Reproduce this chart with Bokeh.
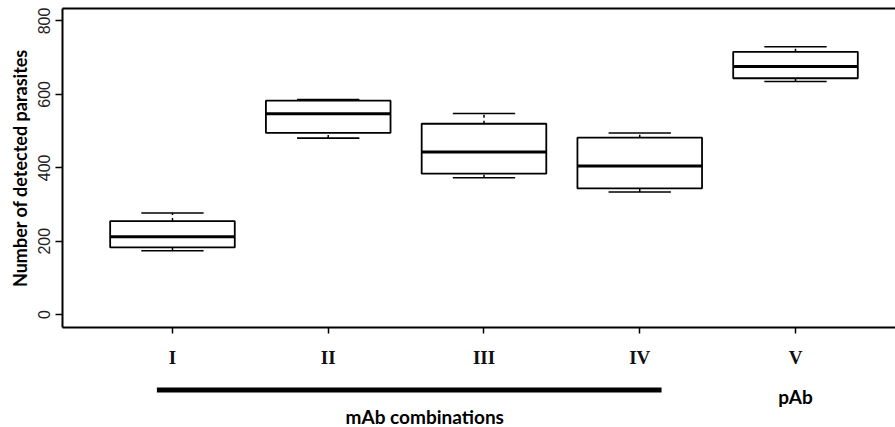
from bokeh.plotting import figure
from bokeh.models import ColumnDataSource, FixedTicker, LinearAxis, Range1d
from bokeh.layouts import column
from bokeh.core.properties import value
from bokeh.embed import file_html
from bokeh.resources import INLINE

# ---- data ----
groups = ["I", "II", "III", "IV", "V"]
lower = [174, 481, 373, 334, 635]
q1 = [183, 495, 384, 344, 644]
median = [212, 547, 443, 405, 676]
q3 = [255, 583, 520, 482, 716]
upper = [277, 586, 548, 495, 730]
y_ticks = [0, 200, 400, 600, 800]
group_names = ["mAb combinations", "pAb"]
group_members = [["I", "II", "III", "IV"], ["V"]]

pos = list(range(1, len(groups) + 1))
box_w = 0.8
cap_w = 0.4

src = ColumnDataSource(dict(
    x=pos, lower=lower, q1=q1, median=median, q3=q3, upper=upper,
    xl=[p - box_w / 2 for p in pos], xr=[p + box_w / 2 for p in pos],
    cl=[p - cap_w / 2 for p in pos], cr=[p + cap_w / 2 for p in pos],
))

W = 895
x_range = Range1d(0.294, 5.642)

p = figure(width=W, height=370, output_backend="svg", toolbar_location=None,
           x_range=x_range, y_range=Range1d(-35, 834),
           min_border_left=62, min_border_top=8, min_border_right=0,
           min_border_bottom=42)
p.outline_line_color = None
p.xgrid.visible = False
p.ygrid.visible = False

# whiskers (dashed)
p.segment(x0="x", y0="q3", x1="x", y1="upper", source=src,
          line_color="black", line_width=1.5, line_dash="3 3")
p.segment(x0="x", y0="lower", x1="x", y1="q1", source=src,
          line_color="black", line_width=1.5, line_dash="3 3")
# caps
p.segment(x0="cl", y0="upper", x1="cr", y1="upper", source=src,
          line_color="black", line_width=1.6)
p.segment(x0="cl", y0="lower", x1="cr", y1="lower", source=src,
          line_color="black", line_width=1.6)
# boxes
p.vbar(x="x", width=box_w, bottom="q1", top="q3", source=src,
       fill_color="white", line_color="black", line_width=1.8)
# medians
p.segment(x0="xl", y0="median", x1="xr", y1="median", source=src,
          line_color="black", line_width=3)

# y axis
ya = p.yaxis[0]
ya.ticker = FixedTicker(ticks=y_ticks)
ya.axis_line_width = 2
ya.major_tick_line_width = 1.5
ya.major_tick_out = 7
ya.major_tick_in = 0
ya.minor_tick_line_color = None
ya.major_label_orientation = "vertical"
ya.major_label_text_font = "Liberation Sans"
ya.major_label_text_font_size = "16px"
ya.major_label_text_color = "#222222"
ya.major_label_standoff = 5
ya.axis_label = "Number of detected parasites"
ya.axis_label_text_font = "Lato"
ya.axis_label_text_font_style = "bold"
ya.axis_label_text_font_size = "18px"
ya.axis_label_text_color = "black"
ya.axis_label_standoff = 5

# x axis
xa = p.xaxis[0]
xa.ticker = FixedTicker(ticks=pos)
xa.major_label_overrides = {pp: g for pp, g in zip(pos, groups)}
xa.axis_line_width = 2
xa.major_tick_line_width = 1.5
xa.major_tick_out = 6
xa.major_tick_in = 0
xa.minor_tick_line_color = None
xa.major_label_text_font = "Liberation Serif"
xa.major_label_text_font_style = "bold"
xa.major_label_text_font_size = "19px"
xa.major_label_text_color = "#111111"
xa.major_label_standoff = 13

# top frame line
top = LinearAxis(ticker=FixedTicker(ticks=[]), axis_line_width=2,
                 major_tick_line_color=None, minor_tick_line_color=None,
                 major_label_text_font_size="0px")
p.add_layout(top, "above")

# ---- group annotations strip below (shares the x scale) ----
H2 = 427 - 370
g = figure(width=W, height=H2, output_backend="svg", toolbar_location=None,
           x_range=x_range, y_range=Range1d(H2, 0),
           min_border_left=62, min_border_right=0, min_border_top=0,
           min_border_bottom=0)
g.axis.visible = False
g.grid.visible = False
g.outline_line_color = None

gx, gy, gtext = [], [], []
for name, members in zip(group_names, group_members):
    xs = [pos[groups.index(m)] for m in members]
    cx = sum(xs) / len(xs)
    if len(members) > 1:
        g.segment(x0=[min(xs) - 0.1], y0=[19.5], x1=[max(xs) + 0.14], y1=[19.5],
                  line_color="black", line_width=5)
        gx.append(cx + 0.12)
        gy.append(46)
    else:
        gx.append(cx)
        gy.append(26)
    gtext.append(name)

g.text(x=gx, y=gy, text=gtext, text_align="center", text_baseline="middle",
       text_font=value("Lato"), text_font_style="bold",
       text_font_size="19px", text_color="black")

layout = column(p, g, spacing=0)
open("out.html", "w").write(file_html(layout, INLINE))
